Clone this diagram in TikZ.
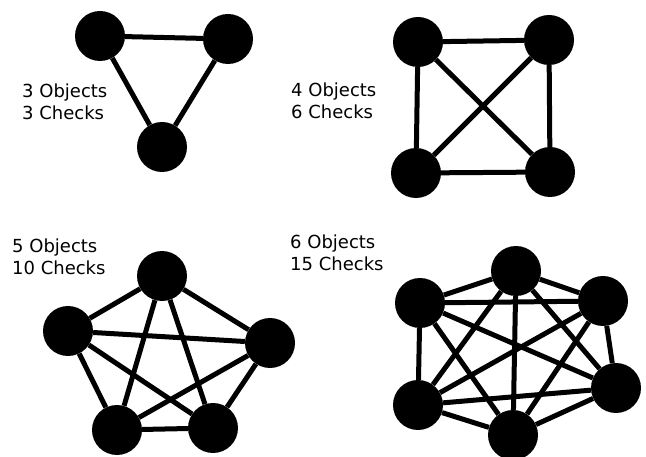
\documentclass[tikz,border=0pt]{standalone}
\usepackage{fontspec}
\setmainfont{DejaVu Sans}
\begin{document}
\begin{tikzpicture}[x=1pt,y=-1pt,
  obj/.style={circle,fill=black,minimum size=50pt,inner sep=0pt},
  chk/.style={line width=5pt,black},
  lbl/.style={anchor=base west,inner sep=0pt,align=left,font=\fontsize{18}{22}\selectfont}]
\useasboundingbox (0,0) rectangle (646,457);
\clip (0,0) rectangle (646,457);
% triangle
\node[obj] (t1) at (100,36) {};
\node[obj] (t2) at (228,39) {};
\node[obj] (t3) at (162,147) {};
\draw[chk] (t1) -- (t2) (t2) -- (t3) (t3) -- (t1);
\node[lbl] (l3) at (22,120) {3 Objects\\3 Checks};
% square
\node[obj] (s1) at (418,42) {};
\node[obj] (s2) at (549,40) {};
\node[obj] (s3) at (416,173) {};
\node[obj] (s4) at (550,172) {};
\draw[chk] (s1) -- (s2) (s1) -- (s3) (s1) -- (s4) (s2) -- (s3) (s2) -- (s4) (s3) -- (s4);
\node[lbl] (l4) at (291,119) {4 Objects\\6 Checks};
% pentagon
\node[obj] (p1) at (162,276) {};
\node[obj] (p2) at (68,331) {};
\node[obj] (p3) at (270,343) {};
\node[obj] (p4) at (117,430) {};
\node[obj] (p5) at (213,428) {};
\foreach \a/\b in {p1/p2,p1/p3,p1/p4,p1/p5,p2/p3,p2/p4,p2/p5,p3/p4,p3/p5,p4/p5}
  \draw[chk] (\a) -- (\b);
\node[lbl] (l5) at (12,275) {5 Objects\\10 Checks};
% hexagon
\node[obj] (h1) at (516,271) {};
\node[obj] (h2) at (420,303) {};
\node[obj] (h3) at (603,301) {};
\node[obj] (h4) at (418,405) {};
\node[obj] (h5) at (616,388) {};
\node[obj] (h6) at (513,435) {};
\foreach \a/\b in {h1/h2,h1/h3,h1/h4,h1/h5,h1/h6,h2/h3,h2/h4,h2/h5,h2/h6,h3/h4,h3/h5,h3/h6,h4/h5,h4/h6,h5/h6}
  \draw[chk] (\a) -- (\b);
\node[lbl] (l6) at (290,271) {6 Objects\\15 Checks};
\end{tikzpicture}
\end{document}
